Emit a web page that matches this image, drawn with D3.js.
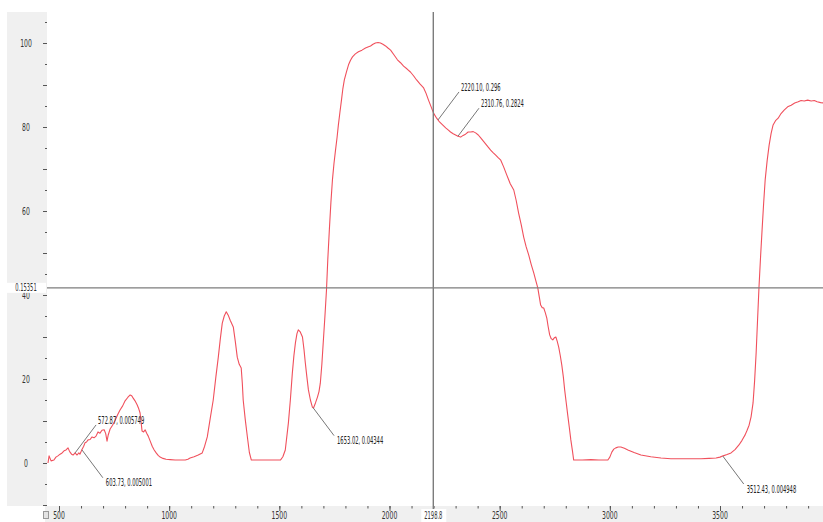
<!DOCTYPE html>
<html>
<head>
<meta charset="utf-8">
<script src="https://cdn.jsdelivr.net/npm/d3@7"></script>
<style>
  html, body { margin: 0; padding: 0; background: #fff; overflow: hidden; }
</style>
</head>
<body>
<svg id="chart" width="823" height="522"></svg>
<script>
// Spectrum: wavenumber (cm-1) and transmittance (%)
const wavenumber = [
  450, 455, 464, 477, 486, 495, 505, 514, 523, 532,
  541, 546, 550, 557, 564, 573, 582, 590, 595, 605,
  612, 618, 625, 632, 641, 650, 659, 668, 677, 686,
  695, 705, 712, 718, 723, 732, 743, 755, 766, 777,
  789, 800, 812, 823, 830, 836, 845, 855, 862, 868,
  873, 877, 884, 891, 898, 905, 914, 923, 932, 941,
  950, 959, 972, 986, 1005, 1027, 1050, 1073, 1085, 1095,
  1113, 1132, 1150, 1161, 1173, 1186, 1200, 1212, 1223, 1232,
  1241, 1250, 1259, 1268, 1277, 1291, 1300, 1309, 1318, 1327,
  1332, 1336, 1345, 1355, 1364, 1373, 1400, 1436, 1470, 1505,
  1516, 1527, 1541, 1550, 1559, 1566, 1573, 1580, 1586, 1595,
  1605, 1612, 1618, 1625, 1632, 1641, 1650, 1655, 1664, 1673,
  1680, 1686, 1693, 1700, 1707, 1714, 1720, 1727, 1734, 1741,
  1748, 1755, 1762, 1768, 1775, 1782, 1788, 1795, 1805, 1814,
  1823, 1832, 1845, 1859, 1875, 1891, 1905, 1914, 1925, 1936,
  1948, 1959, 1970, 1982, 1993, 2005, 2020, 2036, 2050, 2064,
  2080, 2095, 2109, 2123, 2139, 2155, 2166, 2177, 2189, 2200,
  2214, 2227, 2241, 2255, 2266, 2277, 2289, 2300, 2311, 2323,
  2334, 2345, 2357, 2368, 2380, 2391, 2403, 2414, 2425, 2436,
  2448, 2459, 2470, 2482, 2493, 2505, 2518, 2532, 2548, 2564,
  2575, 2586, 2598, 2609, 2620, 2632, 2643, 2655, 2664, 2673,
  2680, 2686, 2693, 2700, 2707, 2714, 2720, 2727, 2734, 2741,
  2748, 2755, 2761, 2768, 2775, 2782, 2789, 2795, 2802, 2809,
  2816, 2823, 2830, 2836, 2875, 2914, 2950, 2991, 3000, 3009,
  3018, 3027, 3038, 3050, 3066, 3082, 3110, 3141, 3186, 3232,
  3277, 3323, 3368, 3414, 3450, 3482, 3500, 3514, 3532, 3550,
  3568, 3586, 3600, 3614, 3623, 3632, 3641, 3650, 3657, 3664,
  3670, 3677, 3684, 3691, 3698, 3705, 3714, 3723, 3732, 3741,
  3752, 3764, 3777, 3791, 3807, 3823, 3839, 3855, 3868, 3882,
  3898, 3914, 3928, 3941, 3957, 3973, 4000
];
const transmittance = [
  0.0, 1.7, 0.5, 0.7, 1.4, 1.7, 2.1, 2.4, 2.9, 3.1,
  3.6, 3.0, 2.6, 2.1, 1.9, 2.4, 1.9, 2.4, 2.1, 3.3,
  4.0, 4.8, 5.0, 5.5, 5.6, 6.2, 6.0, 6.4, 7.4, 7.1,
  7.8, 7.9, 7.0, 5.2, 6.6, 8.1, 9.0, 10.2, 11.5, 12.6,
  13.6, 14.8, 15.6, 16.2, 16.0, 15.5, 14.8, 13.8, 12.9, 11.9,
  9.5, 7.6, 7.4, 7.9, 7.1, 6.4, 5.2, 4.0, 3.1, 2.4,
  1.8, 1.4, 1.1, 0.9, 0.8, 0.7, 0.7, 0.7, 0.9, 1.2,
  1.5, 1.9, 2.4, 4.0, 6.2, 10.5, 15.0, 20.5, 25.2, 29.5,
  33.3, 35.0, 36.0, 35.2, 34.0, 32.4, 29.0, 25.2, 23.5, 22.6,
  19.0, 15.0, 10.5, 6.2, 2.5, 0.7, 0.7, 0.7, 0.7, 0.7,
  1.5, 3.1, 9.5, 15.0, 21.4, 25.5, 28.6, 30.8, 31.7, 31.2,
  30.0, 27.0, 23.8, 20.5, 17.4, 15.0, 13.3, 13.1, 14.3, 15.7,
  17.0, 19.0, 23.5, 29.3, 35.0, 41.2, 48.5, 55.5, 62.0, 67.4,
  71.3, 74.5, 77.5, 80.5, 83.5, 86.4, 89.0, 91.2, 93.2, 94.8,
  95.9, 96.7, 97.4, 97.9, 98.3, 98.8, 99.1, 99.3, 99.7, 100.0,
  100.1, 100.0, 99.7, 99.3, 98.8, 98.3, 97.2, 96.0, 95.3, 94.5,
  93.8, 93.1, 92.2, 91.2, 90.2, 89.3, 88.0, 86.4, 84.8, 83.3,
  82.1, 81.2, 80.5, 79.8, 79.3, 78.8, 78.4, 78.1, 77.8, 77.6,
  78.0, 78.3, 78.8, 78.8, 78.9, 78.6, 78.1, 77.4, 76.7, 76.0,
  75.2, 74.5, 73.9, 73.3, 72.7, 72.1, 70.5, 68.6, 66.5, 65.0,
  62.5, 59.5, 56.7, 53.8, 51.5, 49.5, 47.3, 45.2, 43.4, 41.7,
  39.5, 37.6, 37.0, 36.9, 35.8, 34.5, 32.5, 30.5, 29.6, 29.3,
  29.8, 30.0, 29.0, 27.6, 25.6, 23.3, 20.5, 17.4, 14.4, 11.4,
  8.5, 5.5, 3.0, 0.7, 0.7, 0.8, 0.7, 0.7, 1.4, 2.6,
  3.3, 3.6, 3.8, 3.8, 3.5, 3.1, 2.5, 1.9, 1.5, 1.2,
  1.0, 1.0, 1.0, 1.0, 1.1, 1.2, 1.4, 1.7, 2.0, 2.4,
  3.2, 4.3, 5.4, 6.7, 7.8, 9.0, 11.0, 14.3, 19.5, 26.2,
  33.5, 41.9, 49.0, 55.5, 61.8, 67.4, 72.0, 75.7, 78.5, 80.5,
  81.5, 82.1, 83.2, 84.0, 84.8, 85.2, 85.7, 86.0, 86.3, 86.2,
  86.4, 86.2, 86.3, 86.0, 85.8, 85.7, 85.5
];

// Axis tick labels
const xTickLabels = [500, 1000, 1500, 2000, 2500, 3000, 3500];
const yTickLabels = [0, 20, 40, 60, 80, 100];

// Cursor readouts
const cursorX = 2198.8;
const cursorXLabel = "2198.8";
const cursorY = 41.7;
const cursorYLabel = "0.15351";

// Peak markers
const markerWavenumbers = [572.87, 603.73, 1653.02, 2220.10, 2310.76, 3512.43];
const markerLabels = ["572.87, 0.005749", "603.73, 0.005001", "1653.02, 0.04344",
                      "2220.10, 0.296", "2310.76, 0.2824", "3512.43, 0.004948"];
const markerDirections = ["up", "down", "down", "up", "up", "down"];

const spectrum = wavenumber.map((w, i) => ({ w, t: transmittance[i] }));

const svg = d3.select("#chart");
const FONT = "'Liberation Sans Narrow','Arial Narrow','DejaVu Sans Condensed',sans-serif";
const plot = { left: 47, right: 823, top: 12, bottom: 506 };

const x = d3.scaleLinear().domain([500, 3500]).range([59, 720]);
const y = d3.scaleLinear().domain([0, 100]).range([463, 43]);

// grey side panel and bottom axis strip
svg.append("rect").attr("x", 7).attr("y", plot.top).attr("width", 40)
  .attr("height", plot.bottom - plot.top).attr("fill", "#f0f0f0");
svg.append("rect").attr("x", 45).attr("y", plot.bottom).attr("width", 823 - 45)
  .attr("height", 522 - plot.bottom).attr("fill", "#f0f0f0");

// measure glyph width so labels get the narrow look
const probe = svg.append("text").style("font-family", FONT).style("font-size", "10px").text("0000000000");
const digitW = probe.node().getComputedTextLength() / 10;
probe.remove();

function narrowText(parent, px, py, str, targetDigit, anchor) {
  const s = targetDigit / digitW;
  return parent.append("text")
    .attr("transform", `translate(${px},${py}) scale(${s},1)`)
    .attr("text-anchor", anchor || "start")
    .attr("dy", "0.36em")
    .style("font-family", FONT).style("font-size", "10px")
    .attr("fill", "#333")
    .text(str);
}

// Y axis ticks (minor every 5, major every 10)
const yMinor = d3.axisLeft(y).tickValues(d3.range(-10, 106, 5)).tickSize(2).tickFormat("");
const yMajor = d3.axisLeft(y).tickValues(d3.range(-10, 106, 10)).tickSize(4).tickFormat("");
[yMinor, yMajor].forEach(ax => {
  const g = svg.append("g").attr("transform", `translate(${plot.left},0)`).call(ax);
  g.select(".domain").remove();
  g.selectAll("line").attr("stroke", "#555");
});
yTickLabels.forEach(v => narrowText(svg, 26, y(v), String(v), 3.9, "middle"));

// X axis ticks (minor every 100, major every 500)
const xMinor = d3.axisBottom(x).tickValues(d3.range(500, 4000, 100)).tickSize(2.5).tickFormat("");
const xMajor = d3.axisBottom(x).tickValues(xTickLabels).tickSize(5).tickFormat("");
[xMinor, xMajor].forEach(ax => {
  const g = svg.append("g").attr("transform", `translate(0,${plot.bottom})`).call(ax);
  g.select(".domain").remove();
  g.selectAll("line").attr("stroke", "#555");
});
xTickLabels.forEach(v => narrowText(svg, x(v), 515, String(v), 3.9, "middle"));

// small scroll button at the axis corner
svg.append("rect").attr("x", 43.5).attr("y", 511.5).attr("width", 5).attr("height", 7)
  .attr("fill", "#e4e4e4").attr("stroke", "#999").attr("stroke-width", 1);

// plotting region
svg.append("clipPath").attr("id", "plotClip").append("rect")
  .attr("x", plot.left).attr("y", plot.top)
  .attr("width", plot.right - plot.left).attr("height", plot.bottom - plot.top);
const body = svg.append("g").attr("clip-path", "url(#plotClip)");

// cursor cross-hair
svg.append("line").attr("x1", x(cursorX)).attr("x2", x(cursorX))
  .attr("y1", plot.top).attr("y2", plot.bottom + 3)
  .attr("stroke", "#7c7c7c").attr("stroke-width", 1.4);
svg.append("line").attr("x1", plot.left).attr("x2", plot.right)
  .attr("y1", y(cursorY)).attr("y2", y(cursorY))
  .attr("stroke", "#7c7c7c").attr("stroke-width", 1.4);

// spectrum trace
const line = d3.line().x(d => x(d.w)).y(d => y(d.t));
body.append("path").datum(spectrum).attr("d", line)
  .attr("fill", "none").attr("stroke", "#f0505c").attr("stroke-width", 1.1)
  .attr("stroke-linejoin", "round");

// cursor readout boxes
svg.append("rect").attr("x", 7).attr("y", y(cursorY) - 5).attr("width", 39).attr("height", 10).attr("fill", "#fff");
narrowText(svg, 26, y(cursorY), cursorYLabel, 3.3, "middle");
svg.append("rect").attr("x", x(cursorX) - 12).attr("y", plot.bottom + 3).attr("width", 25).attr("height", 13).attr("fill", "#fff");
narrowText(svg, x(cursorX), 515, cursorXLabel, 3.3, "middle");

// peak markers with leader lines
const interp = w => {
  const i = d3.bisector(d => d.w).right(spectrum, w);
  const a = spectrum[i - 1], b = spectrum[i];
  return a.t + (b.t - a.t) * (w - a.w) / (b.w - a.w);
};
markerWavenumbers.forEach((w, i) => {
  const px = x(w), py = y(interp(w));
  const up = markerDirections[i] === "up";
  const ex = px + 21, ey = up ? py - 28 : py + 28;
  svg.append("line").attr("x1", px).attr("y1", py).attr("x2", ex).attr("y2", ey)
    .attr("stroke", "#777").attr("stroke-width", 1);
  narrowText(svg, up ? ex + 2 : ex + 3, up ? ey - 5 : ey + 5, markerLabels[i], 3.3, "start")
    .attr("fill", "#222");
});
</script>
</body>
</html>
